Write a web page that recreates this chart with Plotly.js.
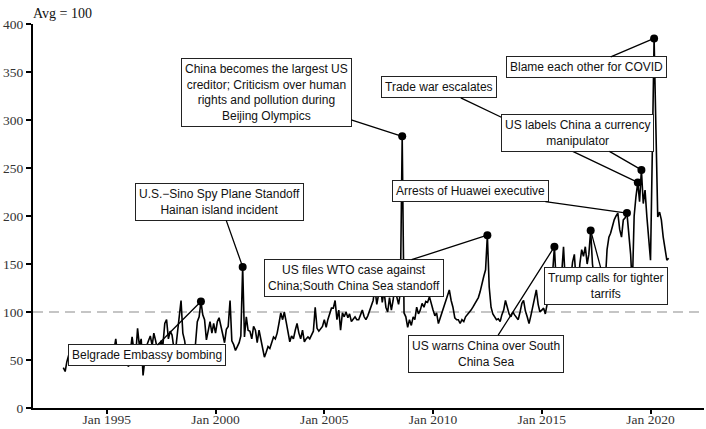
<!DOCTYPE html>
<html>
<head>
<meta charset="utf-8">
<script src="https://cdn.plot.ly/plotly-3.0.1.min.js"></script>
<style>
  body { margin: 0; background: #fff; }
  #chart { width: 706px; height: 429px; }
</style>
</head>
<body>
<div id="chart"></div>
<script>
// monthly index values, Avg = 100
var v1993 = [42, 38, 48, 55, 50, 58, 52, 47, 55, 60, 53, 50];
var v1994 = [56, 52, 60, 55, 48, 57, 62, 54, 50, 58, 63, 55];
var v1995 = [52, 60, 56, 50, 60, 72, 55, 52, 58, 63, 50, 48];
var v1996 = [43, 60, 74, 60, 55, 83, 65, 72, 34, 50, 65, 70];
var v1997 = [75, 65, 78, 70, 60, 62, 70, 66, 88, 92, 72, 80];
var v1998 = [76, 62, 60, 78, 95, 112, 78, 70, 55, 62, 50, 58];
var v1999 = [45, 74, 90, 95, 111, 97, 92, 71, 81, 90, 78, 88];
var v2000 = [78, 90, 94, 85, 78, 68, 82, 85, 112, 70, 66, 60];
var v2001 = [64, 68, 75, 147, 74, 95, 81, 80, 72, 85, 81, 68];
var v2002 = [81, 71, 60, 53, 58, 64, 62, 68, 74, 72, 78, 88];
var v2003 = [99, 92, 100, 90, 81, 69, 75, 72, 81, 88, 78, 72];
var v2004 = [81, 69, 72, 74, 72, 76, 80, 105, 83, 80, 82, 85];
var v2005 = [92, 84, 92, 99, 104, 104, 112, 92, 102, 81, 99, 95];
var v2006 = [100, 94, 98, 90, 93, 95, 92, 92, 97, 102, 95, 92];
var v2007 = [96, 102, 106, 112, 125, 108, 118, 130, 110, 122, 105, 100];
var v2008 = [115, 102, 112, 128, 116, 108, 120, 283, 99, 95, 84, 92];
var v2009 = [86, 95, 92, 105, 98, 102, 109, 105, 111, 110, 116, 108];
var v2010 = [102, 96, 99, 88, 94, 99, 105, 110, 116, 123, 112, 105];
var v2011 = [94, 92, 92, 88, 92, 90, 95, 97, 99, 102, 105, 108];
var v2012 = [112, 115, 121, 130, 137, 144, 180, 126, 105, 98, 95, 92];
var v2013 = [93, 90, 97, 102, 112, 103, 98, 95, 100, 97, 94, 92];
var v2014 = [100, 109, 112, 101, 95, 88, 96, 105, 116, 123, 108, 100];
var v2015 = [102, 104, 98, 110, 118, 126, 140, 168, 130, 118, 125, 140];
var v2016 = [168, 130, 120, 128, 135, 152, 160, 130, 125, 150, 165, 158];
var v2017 = [168, 150, 160, 185, 150, 135, 120, 115, 125, 120, 110, 130];
var v2018 = [165, 178, 182, 189, 196, 200, 203, 186, 178, 196, 198, 203];
var v2019 = [180, 160, 125, 200, 220, 235, 215, 248, 213, 227, 199, 172];
var v2020 = [154, 270, 385, 290, 199, 204, 196, 178, 165, 154, 156];

var years = [1993, 1994, 1995, 1996, 1997, 1998, 1999, 2000, 2001, 2002, 2003, 2004, 2005, 2006,
             2007, 2008, 2009, 2010, 2011, 2012, 2013, 2014, 2015, 2016, 2017, 2018, 2019, 2020];
var yearValues = [v1993, v1994, v1995, v1996, v1997, v1998, v1999, v2000, v2001, v2002, v2003, v2004,
                  v2005, v2006, v2007, v2008, v2009, v2010, v2011, v2012, v2013, v2014, v2015, v2016,
                  v2017, v2018, v2019, v2020];

// events
var eventDates = ['1999-05', '2001-04', '2008-08', '2012-07', '2015-08',
                  '2017-04', '2018-12', '2019-06', '2019-08', '2020-03'];
var eventLabels = [
  'Belgrade Embassy bombing',
  'U.S.\u2212Sino Spy Plane Standoff<br>Hainan island incident',
  'China becomes the largest US<br>creditor; Criticism over human<br>rights and pollution during<br>Beijing Olympics',
  'US files WTO case against<br>China;South China Sea standoff',
  'US warns China over South<br>China Sea',
  'Trump calls for tighter<br>tarrifs',
  'Arrests of Huawei executive',
  'Trade war escalates',
  'US labels China a currency<br>manipulator',
  'Blame each other for COVID'
];

// build the series
var dates = [], values = [], lookup = {};
for (var i = 0; i < years.length; i++) {
  for (var m = 0; m < yearValues[i].length; m++) {
    var key = years[i] + '-' + (m < 9 ? '0' : '') + (m + 1);
    dates.push(key + '-01');
    values.push(yearValues[i][m]);
    lookup[key] = yearValues[i][m];
  }
}
var eventX = eventDates.map(function(d) { return d + '-01'; });
var eventY = eventDates.map(function(d) { return lookup[d]; });

// label box offsets from the dots (pixels)
var labelOffsets = [[-54, 54], [-23, -65], [-136, -44], [-133, 43], [-68, 107],
                    [15, 56], [-156, -22], [-199, -95], [-64, -37], [-68, 29]];

var annotations = eventLabels.map(function(txt, k) {
  return {
    x: eventX[k], y: eventY[k], xref: 'x', yref: 'y',
    text: txt, showarrow: true, arrowhead: 0, arrowwidth: 1.3, arrowcolor: '#000',
    ax: labelOffsets[k][0], ay: labelOffsets[k][1], standoff: 0,
    bgcolor: '#fff', bordercolor: '#222', borderwidth: 1, borderpad: 3,
    align: 'center',
    font: {family: 'Liberation Sans, Arial, sans-serif', size: 12, color: '#111'}
  };
});
annotations.push({
  xref: 'paper', yref: 'paper', x: 0, y: 1, xanchor: 'left', yanchor: 'bottom',
  xshift: -2, yshift: 1, showarrow: false, text: 'Avg = 100',
  font: {family: 'Liberation Serif, Times New Roman, serif', size: 14, color: '#111'}
});

var traces = [
  {
    x: dates, y: values, type: 'scatter', mode: 'lines',
    line: {color: '#000', width: 1.6}, hoverinfo: 'x+y'
  },
  {
    x: eventX, y: eventY, type: 'scatter', mode: 'markers',
    marker: {color: '#000', size: 8}
  }
];

var layout = {
  width: 706, height: 429,
  margin: {l: 33, r: 2, t: 24, b: 21},
  paper_bgcolor: '#fff', plot_bgcolor: '#fff',
  showlegend: false,
  font: {family: 'Liberation Serif, Times New Roman, serif', size: 13.5, color: '#333'},
  xaxis: {
    type: 'date', range: ['1991-08-11', '2022-06-17'],
    tick0: '1995-01-01', dtick: 'M60', tickformat: '%b %Y',
    showgrid: false, zeroline: false,
    showline: true, linecolor: '#000', linewidth: 2,
    ticks: 'outside', ticklen: 4, tickwidth: 2, tickcolor: '#000',
    ticklabelstandoff: -6
  },
  yaxis: {
    range: [0, 400], dtick: 50,
    showgrid: false, zeroline: false,
    showline: true, linecolor: '#000', linewidth: 2,
    ticks: 'outside', ticklen: 5, tickwidth: 2, tickcolor: '#000'
  },
  shapes: [{
    type: 'line', xref: 'paper', x0: 0, x1: 1, yref: 'y', y0: 100, y1: 100,
    layer: 'below', line: {color: '#b3b3b3', width: 1.6, dash: '10px,6px'}
  }],
  annotations: annotations
};

Plotly.newPlot('chart', traces, layout, {displayModeBar: false, staticPlot: true});
</script>
</body>
</html>
